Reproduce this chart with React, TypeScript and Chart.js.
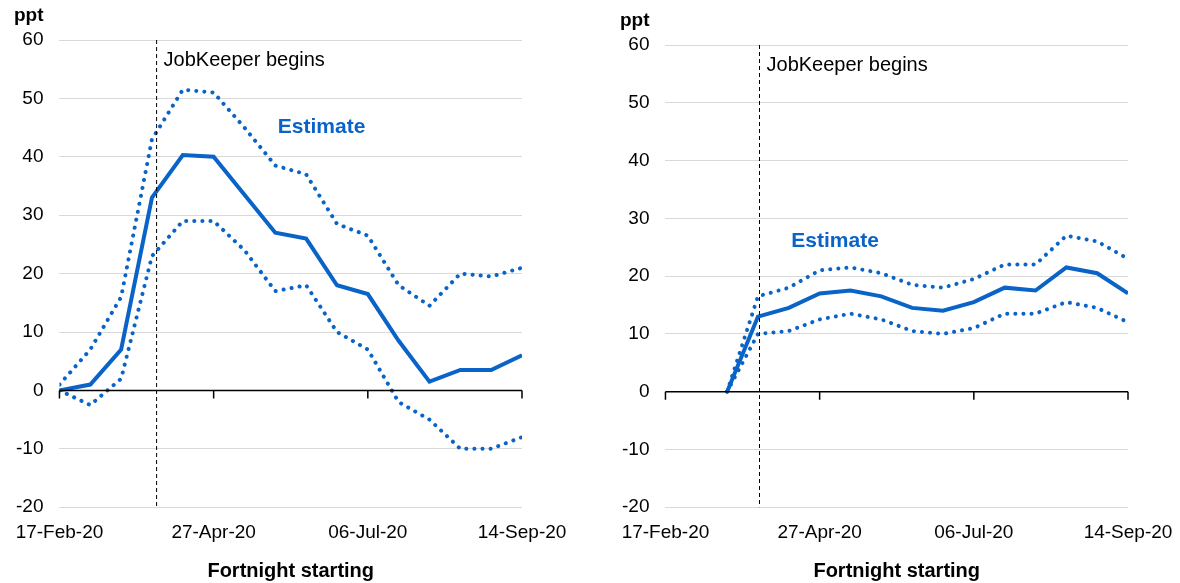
import React, { useEffect, useRef } from 'react'
import { Chart, registerables } from 'chart.js'

Chart.register(...registerables)

const dateLabels = ['17-Feb-20', '', '', '', '', '27-Apr-20', '', '', '', '', '06-Jul-20', '', '', '', '', '14-Sep-20']

const leftEstimate = [0, 1, 7, 33, 40.3, 40, 33.5, 27, 26, 18, 16.5, 8.5, 1.5, 3.5, 3.5, 6]
const leftUpper = [1, 7, 16, 43, 51.5, 51, 45, 38.5, 37, 28.5, 26.5, 18, 14.5, 20, 19.5, 21]
const leftLower = [0, -2.5, 2, 23, 29, 29, 24, 17, 18, 10, 7, -2, -5, -10, -10, -8]

const rightEstimate = [null, null, 0, 13, 14.5, 17, 17.5, 16.5, 14.5, 14, 15.5, 18, 17.5, 21.5, 20.5, 17]
const rightUpper = [null, null, 0, 16.5, 18, 21, 21.5, 20.5, 18.5, 18, 19.5, 22, 22, 27, 26, 23]
const rightLower = [null, null, 0, 10, 10.5, 12.5, 13.5, 12.5, 10.5, 10, 11, 13.5, 13.5, 15.5, 14.5, 12]

const blue = '#0a64c8'
const font = 'Liberation Sans, Arial, sans-serif'

interface PanelProps {
	estimate: (number | null)[]
	upper: (number | null)[]
	lower: (number | null)[]
	estimatePos: [number, number]
	jobKeeperX: number
}

function Panel(props: PanelProps) {
	const ref = useRef<HTMLCanvasElement>(null)

	useEffect(() => {
		if (!ref.current) return
		const toPts = (arr: (number | null)[]) => arr.map((v, i) => ({ x: i, y: v }))
		const dotted = { borderDash: [0.1, 8], borderCapStyle: 'round' as const }
		const overlay = {
			id: 'overlay',
			afterDatasetsDraw(chart: Chart) {
				const ctx = chart.ctx
				const xs = chart.scales.x
				const ys = chart.scales.y
				const y0 = ys.getPixelForValue(0)
				ctx.save()
				// zero axis with ticks
				ctx.strokeStyle = '#000'
				ctx.lineWidth = 1.5
				ctx.beginPath()
				ctx.moveTo(xs.left, y0)
				ctx.lineTo(xs.right, y0)
				for (const t of [0, 5, 10, 15]) {
					const px = xs.getPixelForValue(t)
					ctx.moveTo(px, y0)
					ctx.lineTo(px, y0 + 8)
				}
				ctx.stroke()
				// JobKeeper line
				const jx = xs.getPixelForValue(props.jobKeeperX)
				ctx.lineWidth = 1
				ctx.setLineDash([4, 3])
				ctx.beginPath()
				ctx.moveTo(jx, ys.top)
				ctx.lineTo(jx, ys.bottom)
				ctx.stroke()
				ctx.setLineDash([])
				ctx.fillStyle = '#000'
				ctx.font = `20px ${font}`
				ctx.textBaseline = 'middle'
				ctx.fillText('JobKeeper begins', jx + 7, ys.getPixelForValue(56.5))
				ctx.fillStyle = blue
				ctx.font = `bold 21px ${font}`
				ctx.textAlign = 'center'
				ctx.fillText('Estimate', xs.getPixelForValue(props.estimatePos[0]), ys.getPixelForValue(props.estimatePos[1]))
				ctx.restore()
			},
		}
		const chart = new Chart(ref.current, {
			type: 'line',
			data: {
				datasets: [
					{ data: toPts(props.upper), borderColor: blue, borderWidth: 4, pointRadius: 0, ...dotted },
					{ data: toPts(props.lower), borderColor: blue, borderWidth: 4, pointRadius: 0, ...dotted },
					{ data: toPts(props.estimate), borderColor: blue, borderWidth: 4, pointRadius: 0 },
				],
			},
			options: {
				animation: false,
				responsive: true,
				maintainAspectRatio: false,
				layout: { padding: { top: 40, right: 58, left: 0, bottom: 0 } },
				plugins: { legend: { display: false }, tooltip: { enabled: false } },
				scales: {
					x: {
						type: 'linear',
						min: 0,
						max: 15,
						grid: { display: false },
						border: { display: false },
						ticks: {
							stepSize: 5,
							autoSkip: false,
							maxRotation: 0,
							padding: 6,
							color: '#000',
							font: { family: font, size: 19 },
							callback: (v) => dateLabels[Number(v)] ?? '',
						},
						title: {
							display: true,
							text: 'Fortnight starting',
							color: '#000',
							font: { family: font, size: 20, weight: 'bold' },
							padding: { top: 9, bottom: 0 },
						},
					},
					y: {
						min: -20,
						max: 60,
						grid: { color: '#d9d9d9', drawTicks: false },
						border: { display: false },
						ticks: {
							stepSize: 10,
							padding: 16,
							color: '#000',
							font: { family: font, size: 19 },
						},
					},
				},
			},
			plugins: [overlay],
		})
		return () => chart.destroy()
	}, [])

	return (
		<div style={{ position: 'relative', width: '100%', height: '100%' }}>
			<div style={{ position: 'absolute', left: 14, top: 4, font: `bold 19px ${font}` }}>ppt</div>
			<canvas ref={ref} />
		</div>
	)
}

export default function App() {
	useEffect(() => {
		document.body.style.margin = '0'
	}, [])
	return (
		<div style={{ position: 'relative', width: 1180, height: 583, background: '#fff' }}>
			<div style={{ position: 'absolute', left: 0, top: 0, width: 580, height: 583 }}>
				<Panel estimate={leftEstimate} upper={leftUpper} lower={leftLower} estimatePos={[8.5, 45]} jobKeeperX={3.15} />
			</div>
			<div style={{ position: 'absolute', left: 606, top: 5, width: 580, height: 578 }}>
				<Panel estimate={rightEstimate} upper={rightUpper} lower={rightLower} estimatePos={[5.5, 26]} jobKeeperX={3.05} />
			</div>
		</div>
	)
}
